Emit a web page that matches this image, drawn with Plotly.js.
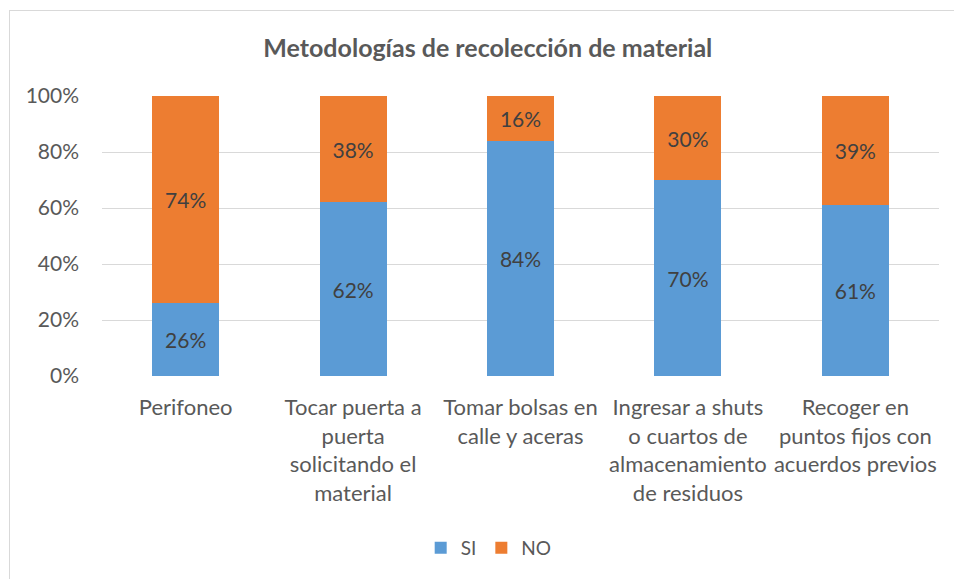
<!DOCTYPE html>
<html>
<head>
<meta charset="utf-8">
<script src="https://cdn.plot.ly/plotly-3.0.1.min.js"></script>
<style>
  html, body { margin:0; padding:0; background:#fff; overflow:hidden; }
  #wrap { position:absolute; left:9px; top:10px; width:950px; height:575px; border:1px solid #d9d9d9; }
  #chart { width:950px; height:575px; }
</style>
</head>
<body>
<div id="wrap"><div id="chart"></div></div>
<script>
const categories = [
  "Perifoneo",
  "Tocar puerta a<br>puerta<br>solicitando el<br>material",
  "Tomar bolsas en<br>calle y aceras",
  "Ingresar a shuts<br>o cuartos de<br>almacenamiento<br>de residuos",
  "Recoger en<br>puntos fijos con<br>acuerdos previos"
];
const siValues = [26, 62, 84, 70, 61];
const noValues = [74, 38, 16, 30, 39];
const yTicks = [0, 20, 40, 60, 80, 100];
const yTickText = ["0%", "20%", "40%", "60%", "80%", "100%"];

const FONT = "Lato, 'Open Sans', sans-serif";
const labelFont = {family: FONT, size: 21, color: "#404040"};

const traces = [
  {type: "bar", name: "SI", x: categories, y: siValues,
   marker: {color: "#5B9BD5"},
   texttemplate: "%{y}%", textposition: "inside", insidetextanchor: "middle",
   textfont: labelFont, hoverinfo: "skip"},
  {type: "bar", name: "NO", x: categories, y: noValues,
   marker: {color: "#ED7D31"},
   texttemplate: "%{y}%", textposition: "inside", insidetextanchor: "middle",
   textfont: labelFont, hoverinfo: "skip"}
];

const layout = {
  width: 950, height: 575,
  barmode: "stack", bargap: 0.6,
  paper_bgcolor: "#fff", plot_bgcolor: "#fff",
  margin: {l: 92, r: 21, t: 85, b: 210},
  title: {text: "<b>Metodologías de recolección de material</b>",
    font: {family: FONT, size: 25, color: "#595959"},
    x: 0.503, xref: "container", xanchor: "center",
    y: 0.9357, yref: "container", yanchor: "middle"},
  xaxis: {type: "category", tickangle: 0, showgrid: false, showline: false, zeroline: false,
    ticks: "", ticklabelstandoff: 16,
    tickfont: {family: FONT, size: 22, color: "#595959"}},
  yaxis: {range: [0, 100], tickvals: yTicks, ticktext: yTickText,
    showgrid: true, gridcolor: "#d9d9d9", gridwidth: 1, zeroline: false, showline: false,
    ticks: "", ticklabelstandoff: 22,
    tickfont: {family: FONT, size: 21, color: "#595959"}},
  legend: {orientation: "h", x: 0.462, xanchor: "center", y: -0.614, yanchor: "middle",
    font: {family: FONT, size: 19, color: "#595959"}, traceorder: "normal",
    itemwidth: 30},
  showlegend: true
};

Plotly.newPlot("chart", traces, layout, {displayModeBar: false, staticPlot: true});
</script>
</body>
</html>
